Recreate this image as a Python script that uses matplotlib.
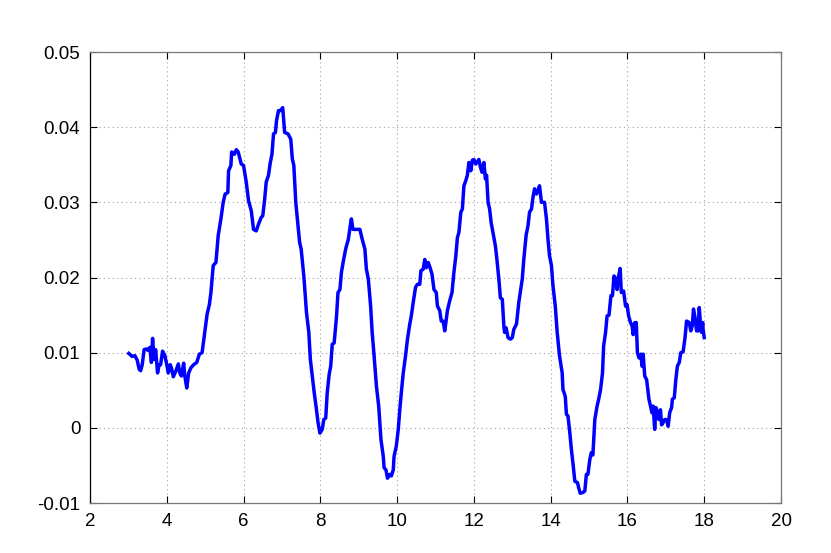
import matplotlib
matplotlib.use("Agg")
import matplotlib.pyplot as plt

# values
x_vals = [3.01, 3.10, 3.17, 3.23, 3.28, 3.32, 3.36, 3.41, 3.47, 3.51, 3.56, 3.60, 3.63, 3.67,
          3.71, 3.76, 3.80, 3.84, 3.89, 3.95, 4.00, 4.04, 4.09, 4.13, 4.17, 4.24, 4.30, 4.34,
          4.38, 4.44, 4.47, 4.52, 4.57, 4.63, 4.70, 4.78, 4.85, 4.92, 4.96, 5.00, 5.05, 5.11,
          5.15, 5.21, 5.28, 5.34, 5.41, 5.47, 5.52, 5.59, 5.61, 5.67, 5.69, 5.76, 5.81, 5.86,
          5.94, 6.00, 6.07, 6.13, 6.20, 6.26, 6.33, 6.39, 6.46, 6.50, 6.55, 6.59, 6.65, 6.69,
          6.74, 6.78, 6.83, 6.86, 6.91, 6.96, 7.02, 7.07, 7.16, 7.23, 7.27, 7.31, 7.36, 7.42,
          7.46, 7.50, 7.57, 7.64, 7.70, 7.74, 7.79, 7.84, 7.90, 7.94, 7.99, 8.05, 8.09, 8.14,
          8.18, 8.23, 8.27, 8.31, 8.36, 8.42, 8.46, 8.51, 8.55, 8.60, 8.66, 8.73, 8.80, 8.81,
          8.85, 8.94, 9.03, 9.09, 9.16, 9.20, 9.25, 9.31, 9.35, 9.40, 9.46, 9.52, 9.58, 9.64,
          9.66, 9.71, 9.75, 9.81, 9.85, 9.90, 9.92, 9.98, 10.03, 10.07, 10.11, 10.16, 10.22,
          10.27, 10.33, 10.37, 10.42, 10.48, 10.53, 10.59, 10.62, 10.68, 10.72, 10.76, 10.81,
          10.86, 10.91, 10.96, 11.02, 11.05, 11.11, 11.15, 11.20, 11.24, 11.27, 11.31, 11.37,
          11.43, 11.48, 11.53, 11.57, 11.61, 11.66, 11.70, 11.74, 11.79, 11.83, 11.87, 11.92,
          11.96, 12.00, 12.05, 12.09, 12.13, 12.17, 12.21, 12.26, 12.30, 12.33, 12.37, 12.41,
          12.45, 12.51, 12.56, 12.60, 12.65, 12.69, 12.74, 12.78, 12.80, 12.84, 12.89, 12.95,
          13.00, 13.04, 13.11, 13.17, 13.22, 13.26, 13.30, 13.36, 13.41, 13.45, 13.50, 13.54,
          13.58, 13.63, 13.67, 13.71, 13.76, 13.84, 13.89, 13.93, 13.97, 14.02, 14.06, 14.12,
          14.17, 14.23, 14.30, 14.32, 14.38, 14.41, 14.45, 14.50, 14.54, 14.58, 14.63, 14.70,
          14.73, 14.77, 14.84, 14.89, 14.93, 14.97, 15.02, 15.06, 15.10, 15.15, 15.21, 15.25,
          15.30, 15.35, 15.38, 15.43, 15.47, 15.52, 15.57, 15.61, 15.65, 15.70, 15.73, 15.77,
          15.81, 15.84, 15.90, 15.95, 15.99, 16.03, 16.08, 16.12, 16.15, 16.19, 16.23, 16.26,
          16.30, 16.35, 16.38, 16.41, 16.45, 16.50, 16.56, 16.60, 16.64, 16.67, 16.71, 16.74,
          16.78, 16.82, 16.86, 16.89, 16.93, 16.97, 17.02, 17.06, 17.10, 17.15, 17.17, 17.22,
          17.26, 17.30, 17.35, 17.39, 17.45, 17.50, 17.54, 17.58, 17.61, 17.65, 17.69, 17.72,
          17.76, 17.80, 17.84, 17.87, 17.90, 17.93, 17.96, 17.97, 18.00]

y_vals = [0.0099, 0.0095, 0.0096, 0.0090, 0.0078, 0.0076, 0.0084, 0.0104, 0.0105, 0.0103,
          0.0107, 0.0087, 0.0119, 0.0091, 0.0104, 0.0073, 0.0084, 0.0084, 0.0102, 0.0096,
          0.0084, 0.0073, 0.0084, 0.0078, 0.0068, 0.0076, 0.0085, 0.0073, 0.0069, 0.0086,
          0.0069, 0.0053, 0.0073, 0.0080, 0.0084, 0.0087, 0.0098, 0.0100, 0.0116, 0.0131,
          0.0151, 0.0164, 0.0180, 0.0216, 0.0220, 0.0256, 0.0278, 0.0300, 0.0311, 0.0313,
          0.0342, 0.0349, 0.0367, 0.0364, 0.0370, 0.0367, 0.0351, 0.0349, 0.0327, 0.0302,
          0.0289, 0.0264, 0.0262, 0.0271, 0.0280, 0.0282, 0.0304, 0.0327, 0.0336, 0.0351,
          0.0364, 0.0391, 0.0393, 0.0409, 0.0422, 0.0422, 0.0426, 0.0393, 0.0391, 0.0384,
          0.0358, 0.0349, 0.0300, 0.0269, 0.0247, 0.0238, 0.0202, 0.0153, 0.0127, 0.0091,
          0.0069, 0.0047, 0.0024, 0.0007, -0.0007, -0.0002, 0.0011, 0.0013, 0.0047, 0.0071,
          0.0082, 0.0111, 0.0113, 0.0147, 0.0180, 0.0184, 0.0207, 0.0222, 0.0238, 0.0251,
          0.0276, 0.0278, 0.0264, 0.0264, 0.0264, 0.0251, 0.0238, 0.0211, 0.0198, 0.0162,
          0.0127, 0.0096, 0.0056, 0.0029, -0.0016, -0.0038, -0.0053, -0.0056, -0.0067,
          -0.0062, -0.0064, -0.0056, -0.0038, -0.0024, -0.0002, 0.0024, 0.0047, 0.0073,
          0.0096, 0.0118, 0.0138, 0.0149, 0.0167, 0.0187, 0.0191, 0.0191, 0.0209, 0.0211,
          0.0224, 0.0213, 0.0220, 0.0213, 0.0204, 0.0184, 0.0180, 0.0162, 0.0156, 0.0142,
          0.0142, 0.0129, 0.0140, 0.0156, 0.0169, 0.0180, 0.0207, 0.0229, 0.0253, 0.0260,
          0.0287, 0.0291, 0.0322, 0.0329, 0.0336, 0.0353, 0.0342, 0.0356, 0.0357, 0.0351,
          0.0354, 0.0357, 0.0347, 0.0340, 0.0353, 0.0331, 0.0336, 0.0300, 0.0291, 0.0273,
          0.0256, 0.0242, 0.0224, 0.0198, 0.0173, 0.0171, 0.0136, 0.0127, 0.0133, 0.0120,
          0.0118, 0.0120, 0.0131, 0.0138, 0.0167, 0.0184, 0.0198, 0.0224, 0.0256, 0.0269,
          0.0287, 0.0291, 0.0307, 0.0318, 0.0311, 0.0316, 0.0322, 0.0300, 0.0300, 0.0278,
          0.0251, 0.0229, 0.0216, 0.0189, 0.0162, 0.0127, 0.0096, 0.0073, 0.0051, 0.0042,
          0.0018, 0.0016, -0.0007, -0.0029, -0.0047, -0.0071, -0.0073, -0.0080, -0.0087,
          -0.0086, -0.0084, -0.0062, -0.0062, -0.0042, -0.0033, -0.0036, 0.0011, 0.0029,
          0.0038, 0.0051, 0.0073, 0.0109, 0.0127, 0.0149, 0.0150, 0.0176, 0.0176, 0.0202,
          0.0198, 0.0184, 0.0202, 0.0212, 0.0180, 0.0182, 0.0162, 0.0164, 0.0149, 0.0140,
          0.0136, 0.0124, 0.0140, 0.0140, 0.0100, 0.0093, 0.0098, 0.0082, 0.0098, 0.0069,
          0.0064, 0.0038, 0.0029, 0.0020, 0.0029, -0.0002, 0.0027, 0.0022, 0.0011, 0.0024,
          0.0004, 0.0007, 0.0011, 0.0011, 0.0002, 0.0020, 0.0027, 0.0038, 0.0040, 0.0064,
          0.0082, 0.0087, 0.0100, 0.0101, 0.0120, 0.0142, 0.0141, 0.0140, 0.0129, 0.0136,
          0.0158, 0.0147, 0.0129, 0.0129, 0.0160, 0.0140, 0.0127, 0.0140, 0.0131, 0.0120]

x_ticks = [2, 4, 6, 8, 10, 12, 14, 16, 18, 20]
y_ticks = [-0.01, 0, 0.01, 0.02, 0.03, 0.04, 0.05]
y_tick_labels = ["-0.01", "0", "0.01", "0.02", "0.03", "0.04", "0.05"]

plt.rcParams['font.family'] = ['Liberation Sans', 'DejaVu Sans']

fig = plt.figure(figsize=(8.31, 5.53), dpi=100)
ax = fig.add_axes([90 / 831, 50 / 553, 691 / 831, 451 / 553])

ax.plot(x_vals, y_vals, color='#0000ff', linewidth=2.5)

ax.set_xlim(2, 20)
ax.set_ylim(-0.01, 0.05)
ax.set_xticks(x_ticks)
ax.set_yticks(y_ticks)
ax.set_yticklabels(y_tick_labels)

# matlab look: inward ticks on all sides, dotted grid
ax.tick_params(direction='in', length=5, width=0.8, top=True, right=True,
               labelsize=13.5, colors='black', pad=7)
ax.grid(True, linestyle=(0, (1, 3)), color='#a0a0a0', linewidth=0.8)
for side in ['top', 'right', 'bottom']:
    ax.spines[side].set_color('#777777')
ax.spines['left'].set_color('black')
for s in ax.spines.values():
    s.set_linewidth(0.9)

fig.savefig('out.png', dpi=100)
